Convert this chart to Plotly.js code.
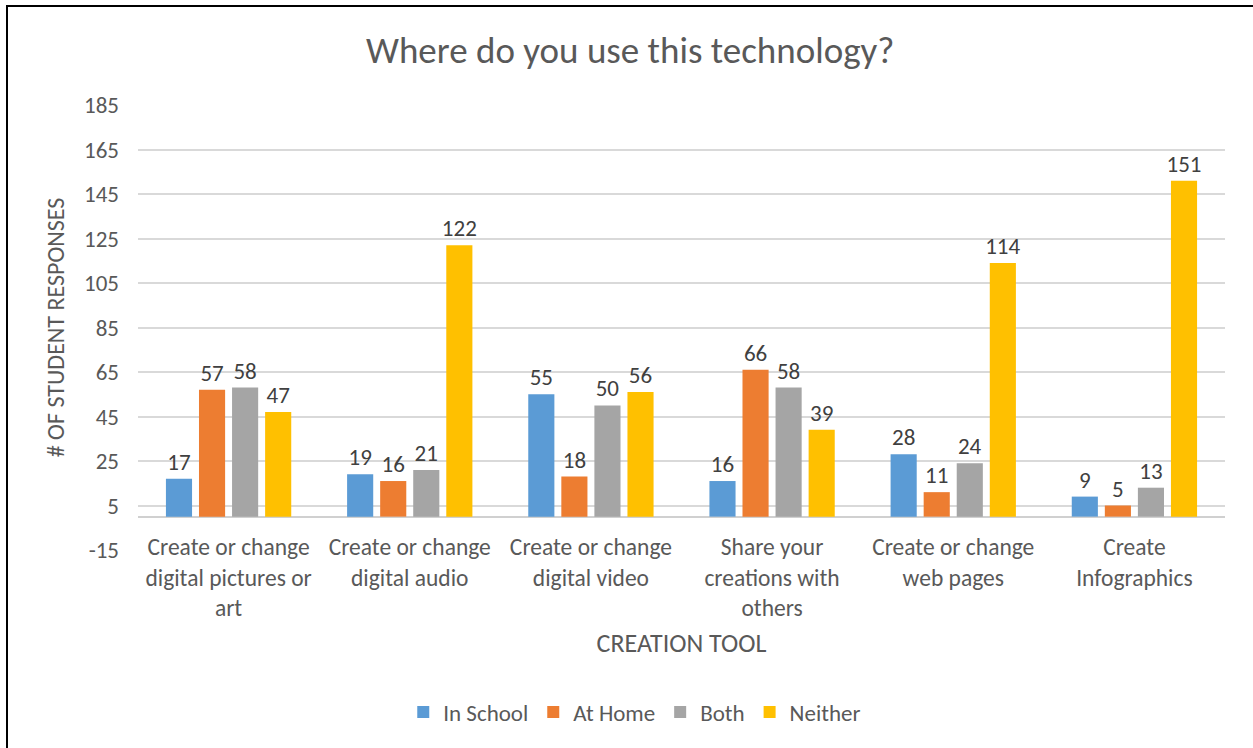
<!DOCTYPE html>
<html>
<head>
<meta charset="utf-8">
<script src="https://cdn.plot.ly/plotly-3.0.1.min.js"></script>
<style>
  html, body { margin: 0; padding: 0; background: #fff; }
  #chart { width: 1253px; height: 748px; }
  #frame { position: absolute; left: 6px; top: 5px; width: 1260px; height: 760px;
           border-left: 2px solid #000; border-top: 2px solid #000; pointer-events: none; }
</style>
</head>
<body>
<div id="chart"></div>
<div id="frame"></div>
<script>
const categories = [
  "Create or change<br>digital pictures or<br>art",
  "Create or change<br>digital audio",
  "Create or change<br>digital video",
  "Share your<br>creations with<br>others",
  "Create or change<br>web pages",
  "Create<br>Infographics"
];
const inSchool = [17, 19, 55, 16, 28, 9];
const atHome   = [57, 16, 18, 66, 11, 5];
const both     = [58, 21, 50, 58, 24, 13];
const neither  = [47, 122, 56, 39, 114, 151];
const yTicks = [-15, 5, 25, 45, 65, 85, 105, 125, 145, 165, 185];

const FONT = 'Carlito, Calibri, "Open Sans", sans-serif';
const seriesDefs = [
  { name: "In School", y: inSchool, color: "#5B9BD5" },
  { name: "At Home",   y: atHome,   color: "#ED7D31" },
  { name: "Both",      y: both,     color: "#A5A5A5" },
  { name: "Neither",   y: neither,  color: "#FFC000" }
];
const traces = seriesDefs.map(s => ({
  type: "bar",
  name: s.name,
  x: categories,
  y: s.y,
  marker: { color: s.color },
  text: s.y.map(String),
  textposition: "outside",
  constraintext: "none",
  cliponaxis: false,
  textfont: { family: FONT, size: 23, color: "#404040" },
  hoverinfo: "x+y+name"
}));

const layout = {
  width: 1253, height: 748,
  margin: { l: 138, r: 28, t: 105, b: 198 },
  paper_bgcolor: "#fff", plot_bgcolor: "#fff",
  font: { family: FONT, color: "#595959" },
  title: { text: "Where do you use this technology?", x: 0.503, xanchor: "center", y: 0.933, yanchor: "middle",
           font: { family: FONT, size: 37, color: "#595959" } },
  barmode: "group",
  bargap: 0.27,
  bargroupgap: 0.21,
  showlegend: true,
  legend: { orientation: "h", x: 0.457, xanchor: "center", y: -0.364, yanchor: "middle",
            font: { family: FONT, size: 23, color: "#595959" }, traceorder: "normal",
            itemwidth: 30, tracegroupgap: 0 },
  xaxis: {
    type: "category",
    anchor: "free", position: 0.075,
    showgrid: false, showline: false, zeroline: false,
    ticks: "", ticklabelstandoff: 14,
    tickfont: { family: FONT, size: 23.5, color: "#595959" },
    title: { text: "CREATION TOOL", standoff: 12, font: { family: FONT, size: 26, color: "#595959" } }
  },
  yaxis: {
    range: [-15, 185],
    tickvals: yTicks,
    ticktext: yTicks.map(String),
    showgrid: true, gridcolor: "#D9D9D9", gridwidth: 1.5,
    zeroline: true, zerolinecolor: "#D0D0D0", zerolinewidth: 2,
    showline: false, ticks: "",
    ticklabelstandoff: 18,
    tickfont: { family: FONT, size: 23, color: "#595959" },
    title: { text: "# OF STUDENT RESPONSES", standoff: 12, font: { family: FONT, size: 24, color: "#595959" } }
  }
};

Plotly.newPlot("chart", traces, layout, { displayModeBar: false, staticPlot: false });
</script>
</body>
</html>
